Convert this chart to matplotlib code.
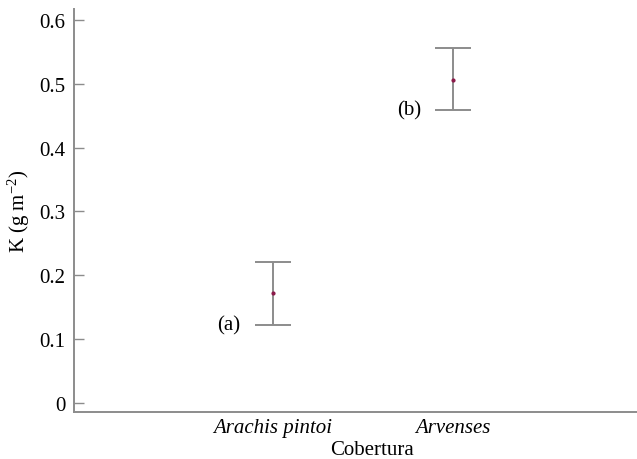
import matplotlib
matplotlib.use("Agg")
from matplotlib import pyplot as plt

plt.rcParams['font.family'] = ['Liberation Serif', 'DejaVu Serif']
plt.rcParams['mathtext.fontset'] = 'custom'
plt.rcParams['mathtext.rm'] = 'Liberation Serif'
plt.rcParams['mathtext.it'] = 'Liberation Serif:italic'

cover = ['Arachis pintoi', 'Arvenses']
k_mean = [0.172, 0.506]
k_low = [0.122, 0.459]
k_high = [0.220, 0.556]
groups = ['(a)', '(b)']

gray = '#8c8c8c'

fig = plt.figure(figsize=(6.37, 4.60), dpi=100)
ax = fig.add_axes([0.116, 0.102, 0.884, 0.877])

xs = [1, 2]
err_lo = [m - l for m, l in zip(k_mean, k_low)]
err_hi = [h - m for m, h in zip(k_mean, k_high)]
ax.errorbar(xs, k_mean, yerr=[err_lo, err_hi], fmt='o', ms=2,
            mfc='#8b1a4a', mec='#8b1a4a', ecolor=gray, elinewidth=1.4,
            capsize=13, capthick=1.4)

for x, lo, g in zip(xs, k_low, groups):
    ax.annotate(g, (x, lo), xytext=(-32, 0), textcoords='offset points',
                ha='center', va='center', fontsize=15)

ax.set_xlim(-0.106, 3.02)
ax.set_ylim(-0.015, 0.618)
ax.set_yticks([0, 0.1, 0.2, 0.3, 0.4, 0.5, 0.6])
ax.set_yticklabels(['0', '0.1', '0.2', '0.3', '0.4', '0.5', '0.6'])
ax.set_xticks(xs)
ax.set_xticklabels(cover, fontstyle='italic')

ax.tick_params(axis='y', direction='in', length=7, width=1, color=gray,
               labelsize=15, pad=6)
ax.tick_params(axis='x', length=0, labelsize=15, pad=4)

for side in ['top', 'right']:
    ax.spines[side].set_visible(False)
for side in ['left', 'bottom']:
    ax.spines[side].set_color(gray)
    ax.spines[side].set_linewidth(1.4)

ax.set_ylabel('K (g m$^{-2}$)', fontsize=15)
ax.yaxis.set_label_coords(-0.075, 0.5)
ax.set_xlabel('Cobertura', fontsize=15)
ax.xaxis.set_label_coords(0.53, -0.07)

fig.savefig('out.png', dpi=100)
